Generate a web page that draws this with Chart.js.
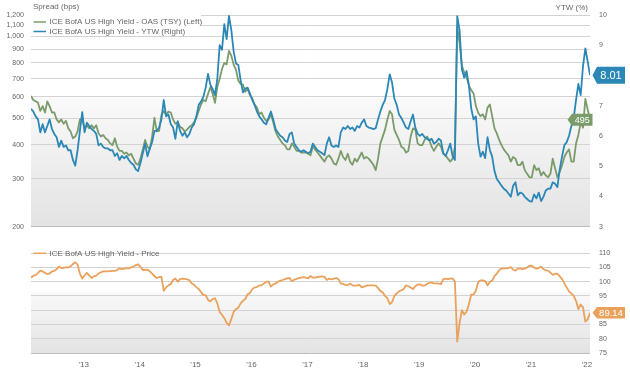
<!DOCTYPE html>
<html>
<head>
<meta charset="utf-8">
<script src="https://cdn.jsdelivr.net/npm/chart.js@4.4.0/dist/chart.umd.min.js"></script>
<style>
  html, body { margin: 0; padding: 0; background: #fff; }
  #wrap { position: relative; width: 630px; height: 378px; }
  #wrap canvas { position: absolute; left: 0; }
</style>
</head>
<body>
<div id="wrap">
  <canvas id="spreadChart" width="630" height="240" style="top:0px"></canvas>
  <canvas id="priceChart" width="630" height="138" style="top:240px"></canvas>
</div>
<script type="text/javascript">

    // semi-monthly observations, first one late July 2012
    const firstObs = 2012.556
    const obsPerYear = 24

    // ICE BofA US High Yield - OAS (TSY), bps (left axis)
    const oasSpread = [
        605, 585, 578, 571, 533, 555, 526, 578, 554, 526,
        526, 496, 484, 496, 478, 490, 460, 448, 423, 429,
        448, 496, 496, 460, 472, 460, 472, 460, 472, 441,
        429, 435, 423, 417, 405, 399, 423, 394, 380, 380,
        371, 375, 366, 371, 356, 342, 338, 356, 385, 417,
        394, 385, 429, 503, 448, 450, 515, 533, 515, 530,
        526, 496, 478, 484, 466, 460, 448, 455, 466, 472,
        484, 503, 533, 563, 585, 578, 615, 653, 615, 571,
        653, 700, 760, 800, 790, 885, 850, 790, 755, 690,
        670, 666, 627, 641, 609, 593, 563, 548, 518, 526,
        503, 490, 496, 518, 484, 448, 429, 417, 405, 399,
        385, 385, 405, 394, 380, 380, 375, 375, 375, 371,
        366, 395, 385, 375, 366, 356, 347, 361, 366, 356,
        342, 338, 356, 380, 361, 352, 371, 347, 338, 356,
        347, 361, 375, 356, 361, 356, 347, 338, 323, 356,
        405, 429, 455, 496, 533, 518, 455, 435, 417, 394,
        389, 375, 380, 429, 460, 455, 405, 399, 399, 417,
        429, 417, 394, 380, 394, 405, 394, 371, 366, 356,
        347, 356, 394, 1080, 950, 780, 738, 708, 662, 636,
        618, 555, 525, 510, 518, 496, 548, 563, 510, 460,
        441, 417, 399, 385, 375, 366, 347, 361, 356, 337,
        337, 347, 323, 313, 304, 304, 337, 323, 328, 309,
        318, 309, 304, 313, 356, 328, 304, 318, 337, 361,
        375, 385, 347, 347, 405, 435, 482, 463, 590, 540,
        495
    ]

    // ICE BofA US High Yield - YTW, % (right axis)
    const ytw = [
        6.90, 6.81, 6.65, 6.55, 6.12, 6.39, 6.12, 6.33, 6.55, 6.23,
        6.07, 5.96, 5.64, 5.85, 5.64, 5.69, 5.53, 5.53, 5.21, 5.02,
        5.53, 6.17, 6.79, 6.12, 6.44, 6.33, 6.23, 6.17, 6.07, 5.69,
        5.75, 5.64, 5.59, 5.59, 5.53, 5.53, 5.34, 5.43, 5.21, 5.34,
        5.26, 5.34, 5.21, 5.11, 5.05, 4.90, 4.84, 5.11, 5.43, 5.75,
        5.33, 5.59, 5.80, 6.17, 6.17, 6.28, 6.55, 7.19, 6.65, 6.71,
        6.40, 6.28, 5.91, 6.49, 6.17, 6.01, 6.12, 5.96, 6.07, 6.28,
        6.39, 6.65, 7.03, 7.14, 7.30, 7.60, 8.05, 7.70, 7.55, 7.35,
        7.90, 9.00, 8.85, 9.70, 9.20, 9.97, 9.50, 8.80, 8.40, 8.35,
        7.85, 7.44, 7.57, 7.60, 7.40, 7.19, 7.03, 6.81, 6.65, 6.55,
        6.44, 6.39, 6.60, 6.81, 6.55, 6.23, 6.12, 6.01, 5.96, 5.85,
        5.80, 6.07, 6.12, 5.75, 5.64, 5.53, 5.48, 5.53, 5.48, 5.43,
        5.48, 5.75, 5.64, 5.53, 5.48, 5.43, 5.37, 5.75, 5.96, 5.69,
        5.64, 5.69, 5.64, 6.12, 6.28, 6.23, 6.33, 6.23, 6.28, 6.17,
        6.33, 6.28, 6.44, 6.55, 6.33, 6.28, 6.26, 6.23, 6.26, 6.55,
        6.81, 7.03, 7.19, 7.56, 8.04, 7.77, 7.24, 7.03, 6.71, 6.60,
        6.44, 6.28, 6.23, 6.49, 6.71, 6.28, 6.07, 6.01, 6.07, 5.96,
        5.91, 5.85, 5.91, 5.75, 5.80, 5.91, 5.85, 5.43, 5.34, 5.53,
        5.75, 5.34, 5.21, 9.96, 9.50, 8.20, 7.93, 8.15, 7.67, 6.92,
        6.55, 6.65, 5.75, 5.32, 5.48, 5.27, 5.96, 5.54, 5.32, 4.84,
        4.58, 4.47, 4.36, 4.26, 4.20, 4.10, 3.99, 4.36, 4.47, 4.04,
        4.13, 4.10, 3.99, 3.92, 3.85, 3.83, 4.07, 3.94, 4.13, 3.85,
        3.99, 4.20, 4.26, 4.26, 4.47, 4.42, 4.31, 4.90, 5.32, 5.70,
        5.80, 6.01, 6.33, 6.60, 7.19, 7.72, 7.35, 8.31, 8.90, 8.47,
        8.01
    ]

    // ICE BofA US High Yield - Price
    const price = [
        101.4, 102.1, 102.3, 103.1, 103.9, 103.6, 103.1, 102.7, 102.9, 103.6,
        103.8, 104.4, 105.3, 104.8, 104.9, 105.0, 105.0, 105.4, 106.2, 106.8,
        106.0, 102.8, 101.1, 102.2, 103.1, 102.2, 101.3, 101.9, 102.1, 102.9,
        103.3, 103.6, 103.6, 103.6, 103.7, 103.8, 103.8, 104.1, 104.7, 104.4,
        104.6, 104.7, 104.7, 105.0, 105.3, 105.8, 106.1, 105.2, 104.1, 104.2,
        104.2, 103.6, 102.8, 102.0, 101.3, 101.6, 101.7, 96.8, 98.0, 98.7,
        99.1, 100.6, 101.1, 100.0, 100.9, 101.1, 101.0, 100.8, 100.6, 99.4,
        98.9, 98.1, 97.4, 96.4, 95.3, 95.3, 93.6, 93.1, 93.9, 94.2,
        92.4, 89.4, 88.4, 87.2, 85.6, 84.7, 86.9, 89.4, 90.4, 90.9,
        92.4, 93.3, 93.9, 95.6, 96.0, 97.4, 98.0, 98.1, 98.7, 98.7,
        99.4, 100.0, 100.0, 98.3, 99.1, 99.4, 100.0, 100.3, 100.6, 100.9,
        101.2, 101.3, 100.2, 100.7, 101.0, 101.3, 101.4, 101.6, 101.4, 101.2,
        102.0, 101.4, 101.4, 101.6, 101.8, 101.9, 101.7, 100.6, 101.1, 100.8,
        101.1, 101.3, 100.9, 99.4, 99.2, 98.9, 98.8, 99.4, 98.7, 98.6,
        98.7, 98.9, 98.0, 98.3, 98.6, 98.7, 98.7, 98.7, 98.6, 97.8,
        96.7, 96.3, 95.0, 94.2, 92.2, 92.8, 95.0, 95.9, 96.6, 97.0,
        97.4, 98.7, 98.4, 98.0, 97.4, 98.4, 99.0, 99.1, 98.6, 98.7,
        99.1, 99.7, 99.7, 99.4, 99.4, 99.3, 99.2, 100.9, 101.1, 100.9,
        101.1, 101.2, 100.0, 79.0, 85.5, 90.0, 88.5, 89.5, 92.0, 95.5,
        95.5, 96.8, 99.8, 100.5, 100.5, 100.2, 98.7, 100.0, 100.4, 102.0,
        102.8, 104.1, 104.6, 104.7, 104.7, 104.8, 105.1, 104.2, 103.9, 104.6,
        104.7, 104.4, 104.6, 105.0, 105.6, 105.6, 104.9, 104.6, 104.8, 105.3,
        104.4, 104.0, 103.9, 103.2, 102.4, 102.8, 102.8, 101.9, 101.0, 99.4,
        98.0, 96.6, 95.8, 95.0, 93.3, 90.4, 92.0, 91.0, 86.0, 86.8,
        89.14
    ]

    // tick labels
    const spreadTicks = [200, 300, 400, 500, 600, 700, 800, 900, 1000, 1100, 1200]
    const yearLabels = ["'13", "'14", "'15", "'16", "'17", "'18", "'19", "'20", "'21", "'22"]

    const colores = {
        oas: '#7b9b6b',
        ytw: '#2b87b6',
        price: '#e9a15c',
        grid: '#d3d3d3',
        text: '#666666'
    }
    const fuente = '"Liberation Sans", Arial, sans-serif'

    const xMin = firstObs
    const xMax = firstObs + (oasSpread.length - 1) / obsPerYear

    function puntos(serie) {
        return serie.map((v, i) => ({ x: firstObs + i / obsPerYear, y: v }))
    }

    // gradient background of a panel (white on top, light grey at the bottom)
    function fondoPanel(chart) {
        const ctx = chart.ctx
        const a = chart.chartArea
        const g = ctx.createLinearGradient(0, a.top, 0, a.bottom)
        g.addColorStop(0, '#ffffff')
        g.addColorStop(0.38, '#ffffff')
        g.addColorStop(0.40, '#f9f9f9')
        g.addColorStop(1, '#e3e3e3')
        ctx.save()
        ctx.fillStyle = g
        ctx.fillRect(a.left, a.top, a.right - a.left, a.bottom - a.top)
        ctx.restore()
    }

    function filaLeyenda(ctx, y, color, texto) {
        ctx.strokeStyle = color
        ctx.lineWidth = 1.5
        ctx.beginPath()
        ctx.moveTo(33.5, y)
        ctx.lineTo(46, y)
        ctx.stroke()
        ctx.fillStyle = colores.text
        ctx.font = '8px ' + fuente
        ctx.textAlign = 'left'
        ctx.textBaseline = 'middle'
        ctx.fillText(texto, 49.5, y)
    }

    // value tag with a small arrow pointing left
    function etiqueta(ctx, puntaX, y, w, h, color, texto, size) {
        const flecha = 4.5
        ctx.fillStyle = color
        ctx.beginPath()
        ctx.moveTo(puntaX, y)
        ctx.lineTo(puntaX + flecha, y - h / 2)
        ctx.lineTo(puntaX + flecha + w, y - h / 2)
        ctx.lineTo(puntaX + flecha + w, y + h / 2)
        ctx.lineTo(puntaX + flecha, y + h / 2)
        ctx.closePath()
        ctx.fill()
        ctx.fillStyle = '#ffffff'
        ctx.font = size + 'px ' + fuente
        ctx.textAlign = 'center'
        ctx.textBaseline = 'middle'
        ctx.fillText(texto, puntaX + flecha + w / 2, y + 0.5)
    }

    const pluginSpread = {
        id: 'pluginSpread',
        beforeDraw(chart) { fondoPanel(chart) },
        afterDraw(chart) {
            const ctx = chart.ctx
            const a = chart.chartArea
            ctx.save()
            ctx.fillStyle = colores.text
            ctx.font = '8px ' + fuente
            ctx.textBaseline = 'middle'
            ctx.textAlign = 'left'
            ctx.fillText('Spread (bps)', 33, 7)
            ctx.textAlign = 'right'
            ctx.fillText('YTW (%)', 588, 8)

            ctx.fillStyle = '#ffffff'
            ctx.fillRect(a.left, 13, 170, 23)
            filaLeyenda(ctx, 22, colores.oas, 'ICE BofA US High Yield - OAS (TSY) (Left)')
            filaLeyenda(ctx, 31.5, colores.ytw, 'ICE BofA US High Yield - YTW (Right)')

            const ultOas = oasSpread[oasSpread.length - 1]
            const ultYtw = ytw[ytw.length - 1]
            const yOas = chart.scales.oas.getPixelForValue(ultOas)
            const yYtw = chart.scales.ytw.getPixelForValue(ultYtw)
            etiqueta(ctx, 567.5, yOas, 20.5, 12, colores.oas, ultOas.toFixed(0), 9)
            etiqueta(ctx, 592.5, yYtw, 28, 17, colores.ytw, ultYtw.toFixed(2), 11)
            ctx.restore()
        }
    }

    const pluginPrecio = {
        id: 'pluginPrecio',
        beforeDraw(chart) { fondoPanel(chart) },
        afterDraw(chart) {
            const ctx = chart.ctx
            ctx.save()
            filaLeyenda(ctx, 13.3, colores.price, 'ICE BofA US High Yield - Price')
            const ult = price[price.length - 1]
            const y = chart.scales.price.getPixelForValue(ult)
            etiqueta(ctx, 592.5, y, 28, 11.5, colores.price, ult.toFixed(2), 9.5)
            ctx.restore()
        }
    }

    const lineaBase = {
        pointRadius: 0,
        borderWidth: 1.8,
        tension: 0,
        borderJoinStyle: 'round',
        fill: false
    }

    const comunes = {
        responsive: false,
        animation: false,
        devicePixelRatio: 1,
        events: [],
        plugins: { legend: { display: false }, tooltip: { enabled: false } }
    }

    window.spread = new Chart(document.getElementById('spreadChart').getContext('2d'), {
        type: 'line',
        data: {
            datasets: [
                Object.assign({ label: 'YTW', data: puntos(ytw), yAxisID: 'ytw', borderColor: colores.ytw }, lineaBase),
                Object.assign({ label: 'OAS', data: puntos(oasSpread), yAxisID: 'oas', borderColor: colores.oas }, lineaBase)
            ]
        },
        options: Object.assign({}, comunes, {
            layout: { padding: { left: 0, right: 0, top: 15, bottom: 6 } },
            scales: {
                x: { type: 'linear', min: xMin, max: xMax, display: false },
                oas: {
                    type: 'logarithmic',
                    position: 'left',
                    min: 200,
                    max: 1200,
                    afterBuildTicks: (scale) => { scale.ticks = spreadTicks.map(v => ({ value: v })) },
                    afterFit: (scale) => { scale.width = 31 },
                    border: { display: false },
                    grid: {
                        drawTicks: false,
                        lineWidth: 1,
                        color: (c) => c.tick && c.tick.value === 200 ? '#bdbdbd' : colores.grid
                    },
                    ticks: {
                        autoSkip: false,
                        padding: 7,
                        color: colores.text,
                        font: { family: fuente, size: 7 },
                        callback: (v) => Number(v).toLocaleString('en-US')
                    }
                },
                ytw: {
                    type: 'linear',
                    position: 'right',
                    min: 3,
                    max: 10,
                    afterFit: (scale) => { scale.width = 40 },
                    border: { display: false },
                    grid: { display: false, drawTicks: false },
                    ticks: {
                        stepSize: 1,
                        padding: 9,
                        color: colores.text,
                        font: { family: fuente, size: 7 }
                    }
                }
            }
        }),
        plugins: [pluginSpread]
    })

    window.precio = new Chart(document.getElementById('priceChart').getContext('2d'), {
        type: 'line',
        data: {
            datasets: [
                Object.assign({ label: 'Price', data: puntos(price), yAxisID: 'price', borderColor: colores.price }, lineaBase)
            ]
        },
        options: Object.assign({}, comunes, {
            layout: { padding: { left: 31, right: 0, top: 8, bottom: 0 } },
            scales: {
                x: {
                    type: 'linear',
                    min: xMin,
                    max: xMax,
                    afterBuildTicks: (scale) => {
                        scale.ticks = yearLabels.map(l => ({ value: 2000 + parseInt(l.slice(1), 10) + 0.5 }))
                    },
                    afterFit: (scale) => { scale.height = 25 },
                    border: { display: false },
                    grid: { display: false, drawTicks: false },
                    ticks: {
                        autoSkip: false,
                        maxRotation: 0,
                        padding: 7,
                        color: colores.text,
                        font: { family: fuente, size: 8 },
                        callback: (v, i) => yearLabels[i]
                    }
                },
                price: {
                    type: 'linear',
                    position: 'right',
                    min: 75,
                    max: 110,
                    afterFit: (scale) => { scale.width = 40 },
                    border: { display: false },
                    grid: {
                        drawTicks: false,
                        lineWidth: 1,
                        color: (c) => c.tick && c.tick.value === 75 ? '#bdbdbd' : colores.grid
                    },
                    ticks: {
                        stepSize: 5,
                        padding: 9,
                        color: colores.text,
                        font: { family: fuente, size: 7 }
                    }
                }
            }
        }),
        plugins: [pluginPrecio]
    })

</script>
</body>
</html>
